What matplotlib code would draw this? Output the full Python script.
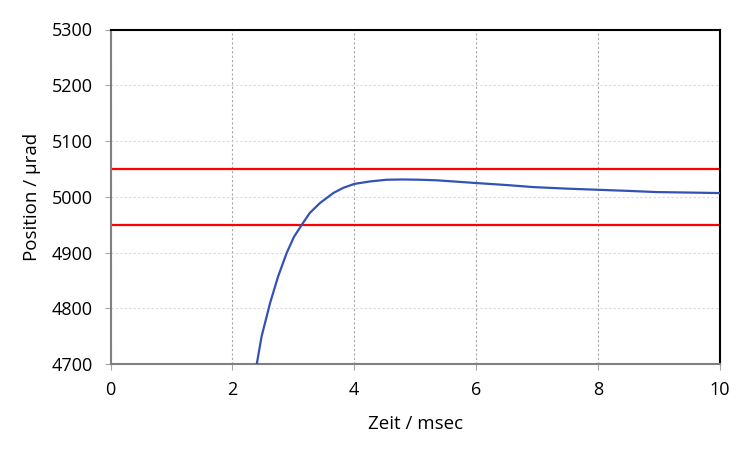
import matplotlib
matplotlib.use("Agg")
import matplotlib.pyplot as plt

# values
zeit = [2.40, 2.48, 2.62, 2.75, 2.89, 3.01, 3.14, 3.27, 3.44, 3.66, 3.82,
        4.00, 4.26, 4.53, 4.80, 5.08, 5.35, 5.62, 6.01, 6.50, 6.94, 7.50,
        8.00, 8.50, 8.96, 9.50, 10.00]
position = [4700, 4750, 4810, 4857, 4899, 4928, 4950, 4971, 4989, 5007, 5016,
            5023, 5027.5, 5030.5, 5031, 5030.5, 5029.5, 5027.5, 5024.5, 5021,
            5017.3, 5014.5, 5012.5, 5010.5, 5008.4, 5007.5, 5006.6]
limits = [4950, 5050]

plt.rcParams['font.family'] = ['Open Sans', 'DejaVu Sans']

fig = plt.figure(figsize=(7.5, 4.54), dpi=100)
ax = fig.add_axes([110.5 / 750, 1 - 364 / 454, (720 - 110.5) / 750, (364 - 29.5) / 454])

ax.plot(zeit, position, color='#3352b5', lw=1.6, clip_on=True, zorder=3)
for lim in limits:
    ax.axhline(lim, color='#ff0000', lw=1.6, zorder=2)

ax.set_xlim(0, 10)
ax.set_ylim(4700, 5300)
ax.set_xticks(range(0, 11, 2))
ax.set_yticks(range(4700, 5301, 100))

ax.grid(axis='x', color='#a6a6a6', ls=(0, (2, 2)), lw=0.8)
ax.grid(axis='y', color='#d9d9d9', ls=(0, (2, 2)), lw=0.8)
ax.set_axisbelow(True)

for side in ['left', 'bottom']:
    ax.spines[side].set_color('#808080')
    ax.spines[side].set_linewidth(1.5)
for side in ['top', 'right']:
    ax.spines[side].set_color('#000000')
    ax.spines[side].set_linewidth(1.5)

ax.tick_params(axis='both', direction='out', length=4, width=0.8, color='#a6a6a6',
               labelsize=13, labelcolor='#000000')
ax.tick_params(axis='x', pad=8)
ax.tick_params(axis='y', pad=9)

ax.set_xlabel('Zeit / msec', fontsize=13.5, labelpad=12)
ax.set_ylabel('Position / µrad', fontsize=13.5, labelpad=7)

fig.savefig('out.png', dpi=100)
